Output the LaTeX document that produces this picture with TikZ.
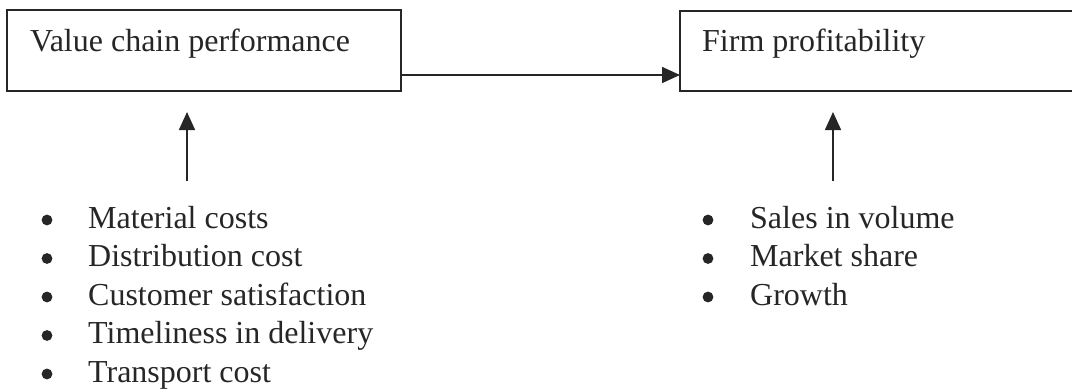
\documentclass[tikz,border=0pt]{standalone}
\usepackage{fontspec}
\setmainfont{Liberation Serif}
\usetikzlibrary{arrows.meta}
\definecolor{ink}{HTML}{262626}
\begin{document}
\begin{tikzpicture}[x=1pt,y=-1pt,
  boxline/.style={draw=ink,line width=1.6pt},
  label/.style={anchor=base west,inner sep=0pt,text=ink,font=\fontsize{32}{38}\selectfont},
  arr/.style={draw=ink,line width=1.6pt,-{Triangle[length=18pt,width=16pt]}},
  dot/.style={fill=ink}]
\useasboundingbox (0,0) rectangle (1072,391);
\clip (0,0) rectangle (1072,391);
% boxes
\draw[boxline] (7,10) rectangle (401,91);
\coordinate (vcR) at (401,75);
\draw[boxline] (680,11) rectangle (1090,91);
\coordinate (fpL) at (680,75);
\node[label] (vct) at (30,51) {Value chain performance};
\node[label] (fpt) at (702,51) {Firm profitability};
% horizontal arrow
\draw[arr] (vcR) -- (fpL);
% vertical arrows
\coordinate (a1b) at (187,181);
\coordinate (a1t) at (187,112);
\coordinate (a2b) at (833,181);
\coordinate (a2t) at (833,112);
\draw[arr] (a1b) -- (a1t);
\draw[arr] (a2b) -- (a2t);
% left list
\foreach \t [count=\i] in {Material costs,Distribution cost,Customer satisfaction,Timeliness in delivery,Transport cost}{
  \fill[dot] (47,{220+38.5*(\i-1)}) circle (5.4);
  \node[label] (l\i) at (88,{228+38.5*(\i-1)}) {\t};
}
% right list
\foreach \t [count=\i] in {Sales in volume,Market share,Growth}{
  \fill[dot] (708,{220+38.5*(\i-1)}) circle (5.4);
  \node[label] (r\i) at (750,{228+38.5*(\i-1)}) {\t};
}
\end{tikzpicture}
\end{document}
